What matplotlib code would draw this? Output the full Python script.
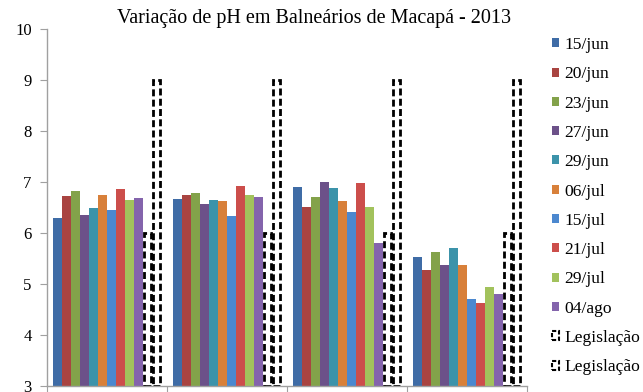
import numpy as np
import matplotlib
matplotlib.use("Agg")
import matplotlib.pyplot as plt
from matplotlib.patches import Patch

plt.rcParams['font.family'] = ['Liberation Serif', 'DejaVu Serif']

# pH readings per beach (4 sites), one series per sampling date
dates = ["15/jun", "20/jun", "23/jun", "27/jun", "29/jun",
         "06/jul", "15/jul", "21/jul", "29/jul", "04/ago"]
ph_15jun = [6.30, 6.67, 6.90, 5.53]
ph_20jun = [6.73, 6.74, 6.51, 5.28]
ph_23jun = [6.83, 6.78, 6.71, 5.63]
ph_27jun = [6.36, 6.57, 7.00, 5.38]
ph_29jun = [6.50, 6.65, 6.88, 5.70]
ph_06jul = [6.74, 6.63, 6.63, 5.38]
ph_15jul = [6.46, 6.33, 6.42, 4.71]
ph_21jul = [6.86, 6.92, 6.98, 4.63]
ph_29jul = [6.65, 6.74, 6.51, 4.94]
ph_04ago = [6.69, 6.71, 5.81, 4.80]
series = [ph_15jun, ph_20jun, ph_23jun, ph_27jun, ph_29jun,
          ph_06jul, ph_15jul, ph_21jul, ph_29jul, ph_04ago]

# Legal range (lower and upper pH limits)
leg_min = [6, 6, 6, 6]
leg_max = [9, 9, 9, 9]

colors = ['#3F6CA6', '#A94441', '#83A24A', '#6C5189', '#3C93AA',
          '#D8803A', '#4C88CF', '#CC4E4B', '#A2C25C', '#8464AC']

yticks = [3, 4, 5, 6, 7, 8, 9, 10]
y_base = 3

fig = plt.figure(figsize=(6.43, 3.92), dpi=100)
ax = fig.add_axes([47 / 643, 6 / 392, 480 / 643, 357 / 392])

n_groups = 4
n_bars = 12
width = 0.9 / n_bars
x = np.arange(n_groups)
start = x - 0.45

for i, (vals, c) in enumerate(zip(series, colors)):
    v = np.array(vals)
    ax.bar(start + (i + 0.5) * width, v - y_base, width, bottom=y_base,
           color=c, edgecolor='none', label=dates[i])

for j, vals in enumerate([leg_min, leg_max]):
    v = np.array(vals, dtype=float)
    ax.bar(start + (10 + j + 0.5) * width, v - y_base, width * 0.85, bottom=y_base,
           facecolor='white', edgecolor='black', linewidth=2.0,
           linestyle=(0, (2.5, 1.2)), label='Legislação')

ax.set_xlim(-0.5, n_groups - 0.5)
ax.set_ylim(3, 10)
ax.set_yticks(yticks)
ax.set_yticklabels([str(t) for t in yticks], fontsize=12)
ax.set_xticks(np.arange(n_groups + 1) - 0.5)
ax.set_xticklabels([])
ax.tick_params(axis='y', length=5, color='#A0A0A0', pad=6)
ax.tick_params(axis='x', length=4, color='#A0A0A0')

for s in ['top', 'right']:
    ax.spines[s].set_visible(False)
for s in ['left', 'bottom']:
    ax.spines[s].set_color('#A0A0A0')
    ax.spines[s].set_linewidth(1.0)

fig.text(314 / 643, 1 - 18 / 392,
         "Variação de pH em Balneários de Macapá - 2013",
         ha='center', va='center', fontsize=14.5)

handles = [Patch(facecolor=c, edgecolor='none') for c in colors]
handles += [Patch(facecolor='white', edgecolor='black', linewidth=1.5,
                  linestyle=(0, (2, 1))) for _ in range(2)]
labels = dates + ['Legislação', 'Legislação']
leg = fig.legend(handles, labels, loc='upper left',
                 bbox_to_anchor=(552 / 643, 1 - 37 / 392),
                 frameon=False, fontsize=12.6, handlelength=0.42,
                 handleheight=0.42, handletextpad=0.3,
                 labelspacing=0.76, borderaxespad=0, borderpad=0)

fig.savefig("out.png", dpi=100)
